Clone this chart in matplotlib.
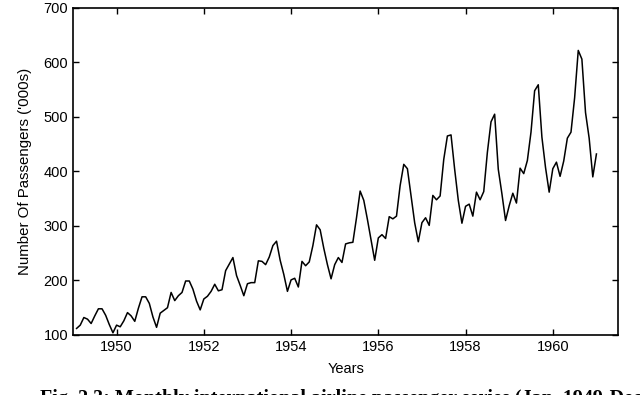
import matplotlib
matplotlib.use("Agg")
import matplotlib.pyplot as plt
import numpy as np

plt.rcParams['font.family'] = ['Liberation Sans', 'DejaVu Sans']

# monthly international airline passengers ('000s), Jan 1949 - Dec 1960
passengers = [
    112, 118, 132, 129, 121, 135, 148, 148, 136, 119, 104, 118,
    115, 126, 141, 135, 125, 149, 170, 170, 158, 133, 114, 140,
    145, 150, 178, 163, 172, 178, 199, 199, 184, 162, 146, 166,
    171, 180, 193, 181, 183, 218, 230, 242, 209, 191, 172, 194,
    196, 196, 236, 235, 229, 243, 264, 272, 237, 211, 180, 201,
    204, 188, 235, 227, 234, 264, 302, 293, 259, 229, 203, 229,
    242, 233, 267, 269, 270, 315, 364, 347, 312, 274, 237, 278,
    284, 277, 317, 313, 318, 374, 413, 405, 355, 306, 271, 306,
    315, 301, 356, 348, 355, 422, 465, 467, 404, 347, 305, 336,
    340, 318, 362, 348, 363, 435, 491, 505, 404, 359, 310, 337,
    360, 342, 406, 396, 420, 472, 548, 559, 463, 407, 362, 405,
    417, 391, 419, 461, 472, 535, 622, 606, 508, 461, 390, 432,
]
start_year = 1949
year_ticks = [1950, 1952, 1954, 1956, 1958, 1960]
y_ticks = [100, 200, 300, 400, 500, 600, 700]

months = start_year + (np.arange(len(passengers)) + 1) / 12.0

fig = plt.figure(figsize=(6.4, 3.95), dpi=100)
ax = fig.add_axes([0.114, 0.152, 0.852, 0.828])
ax.plot(months, passengers, color='black', linewidth=1.1)

ax.set_xlim(1949, 1961.5)
ax.set_ylim(100, 700)
ax.set_xticks(year_ticks)
ax.set_yticks(y_ticks)
ax.tick_params(direction='in', top=True, right=True, length=4, width=1,
               labelsize=10.5, colors='black')
for s in ax.spines.values():
    s.set_linewidth(1.2)

ax.set_xlabel('Years', fontsize=10.5, labelpad=6)
ax.set_ylabel("Number Of Passengers ('000s)", fontsize=10.8, labelpad=8)

# caption, cut off at the bottom edge as in the source figure
fig.text(0.063, 0.016,
         'Fig. 2.3: Monthly international airline passenger series (Jan. 1949-Dec. 1960)',
         family='Liberation Serif', fontweight='bold', fontsize=14.5,
         va='top', ha='left')

fig.savefig('out.png', dpi=100)
